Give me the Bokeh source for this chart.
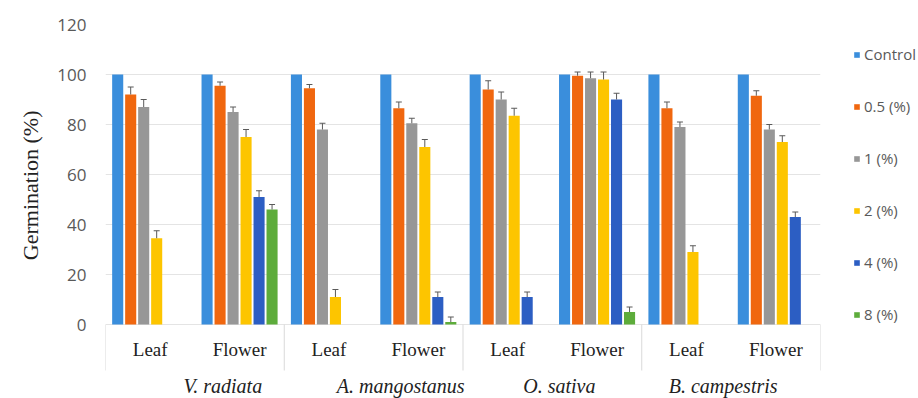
from bokeh.plotting import figure
from bokeh.models import (ColumnDataSource, FactorRange, Range1d, FixedTicker,
                          Legend, LegendItem, Title)
from bokeh.transform import dodge
from bokeh.core.properties import value
from bokeh.embed import file_html
from bokeh.resources import INLINE

# ---- data -------------------------------------------------------------
species = ["V. radiata", "A. mangostanus", "O. sativa", "B. campestris"]
parts = ["Leaf", "Flower"]
series_names = ["Control", "0.5 (%)", "1 (%)", "2 (%)", "4 (%)", "8 (%)"]

# germination (%) per (species, part), in the order of `factors`
germ_control = [100, 100, 100, 100, 100, 100, 100, 100]
germ_05 = [92, 95.5, 94.5, 86.5, 94, 99.5, 86.5, 91.5]
germ_1 = [87, 85, 78, 80.5, 90, 98.5, 79, 78]
germ_2 = [34.5, 75, 11, 71, 83.5, 98, 29, 73]
germ_4 = [0, 51, 0, 11, 11, 90, 0, 43]
germ_8 = [0, 46, 0, 1, 0, 5, 0, 0]

# standard errors (upper bars only)
err_control = [0, 0, 0, 0, 0, 0, 0, 0]
err_05 = [3, 1.5, 1.5, 2.5, 3.5, 1.5, 2.5, 2]
err_1 = [3, 2, 2.5, 2, 3, 2.5, 2, 2]
err_2 = [3, 3, 3, 3, 3, 3, 2.5, 2.5]
err_4 = [0, 2.5, 0, 2, 2, 2.5, 0, 2]
err_8 = [0, 2, 0, 2, 0, 2, 0, 0]

y_ticks = [0, 20, 40, 60, 80, 100, 120]
y_title = "Germination (%)"

# ---- styling ------------------------------------------------------------
colors = ["#3A8EDC", "#F0670F", "#979797", "#FDC500", "#2C5EC3", "#5DAC3B"]
ERR_COLOR = "#5a5a5a"
BAR_STEP = 0.1454
BAR_W = 0.124
PART_LABEL_Y = -10
SPECIES_LABEL_Y = -24.6
SEPARATOR_END = -18.4
species_label_shift = [28, 27, 7, -8]

series_values = [germ_control, germ_05, germ_1, germ_2, germ_4, germ_8]
series_errors = [err_control, err_05, err_1, err_2, err_4, err_8]

factors = [(s, pt) for s in species for pt in parts]

p = figure(
    x_range=FactorRange(*factors, factor_padding=0, group_padding=0,
                        range_padding=0),
    y_range=Range1d(-29.6, 120),
    frame_width=715, frame_height=374,
    min_border_left=105, min_border_right=98,
    min_border_top=24, min_border_bottom=0,
    x_axis_location=None,
    toolbar_location=None, output_backend="svg",
)
p.outline_line_color = None
p.background_fill_color = "white"
p.border_fill_color = "white"
p.xgrid.grid_line_color = None
p.ygrid.grid_line_color = "#E4E4E4"
p.ygrid.grid_line_width = 1

# y axis
p.yaxis.ticker = FixedTicker(ticks=y_ticks)
p.yaxis.axis_line_color = None
p.yaxis.major_tick_line_color = None
p.yaxis.minor_tick_line_color = None
p.yaxis.major_tick_out = 0
p.yaxis.major_label_standoff = 19
p.yaxis.major_label_text_font = "Open Sans"
p.yaxis.major_label_text_font_size = "17px"
p.yaxis.major_label_text_color = "#595959"

# y title, placed on the left side and pulled toward the top
p.add_layout(Title(text=y_title, align="right", offset=86,
                   text_font="Liberation Serif", text_font_size="22px",
                   text_font_style="normal", text_color="#222222",
                   standoff=24), "left")

# bars with upper error bars
legend_items = []
for i, (name, vals, errs, col) in enumerate(
        zip(series_names, series_values, series_errors, colors)):
    off = (i - 2.5) * BAR_STEP
    src = ColumnDataSource(dict(x=factors, top=vals))
    r = p.vbar(x=dodge("x", off, range=p.x_range), top="top", width=BAR_W,
               source=src, fill_color=col, line_color=None)
    legend_items.append(LegendItem(label=name, renderers=[r]))

    keep = [k for k in range(len(factors)) if errs[k] > 0]
    if keep:
        esrc = ColumnDataSource(dict(
            x=[factors[k] for k in keep],
            lo=[vals[k] for k in keep],
            hi=[vals[k] + errs[k] for k in keep],
        ))
        xd = dodge("x", off, range=p.x_range)
        p.segment(x0=xd, y0="lo", x1=xd, y1="hi", source=esrc,
                  line_color=ERR_COLOR, line_width=1)
        p.scatter(x=xd, y="hi", marker="dash", size=6, source=esrc,
                  line_color=ERR_COLOR, line_width=1)

# category separators under the baseline
bounds = [(species[0], parts[0], -0.5)] + [(s, parts[-1], 0.5) for s in species]
sep_src = ColumnDataSource(dict(x=bounds, y0=[0] * len(bounds),
                                y1=[SEPARATOR_END] * len(bounds)))
p.segment(x0="x", y0="y0", x1="x", y1="y1", source=sep_src,
          line_color="#D9D9D9", line_width=1)

# part labels
part_src = ColumnDataSource(dict(x=factors, text=[f[1] for f in factors]))
p.text(x="x", y=PART_LABEL_Y, text="text", source=part_src,
       text_align="center", text_baseline="middle",
       text_font=value("Liberation Serif"), text_font_size="19px",
       text_color="#222222")

# species labels
sp_src = ColumnDataSource(dict(x=species, text=species, dx=species_label_shift))
p.text(x="x", y=SPECIES_LABEL_Y, text="text", x_offset="dx", source=sp_src,
       text_align="center", text_baseline="middle",
       text_font=value("Liberation Serif"), text_font_size="20px",
       text_font_style="italic", text_color="#222222")

legend = Legend(
    items=legend_items, location=(33, 74),
    glyph_width=7, glyph_height=7, label_height=20, spacing=32,
    label_standoff=4, padding=0, margin=0,
    label_text_font="Open Sans", label_text_font_size="15px",
    label_text_color="#595959",
    border_line_color=None, background_fill_alpha=0,
)
p.add_layout(legend, "right")

open("out.html", "w").write(file_html(p, INLINE))
